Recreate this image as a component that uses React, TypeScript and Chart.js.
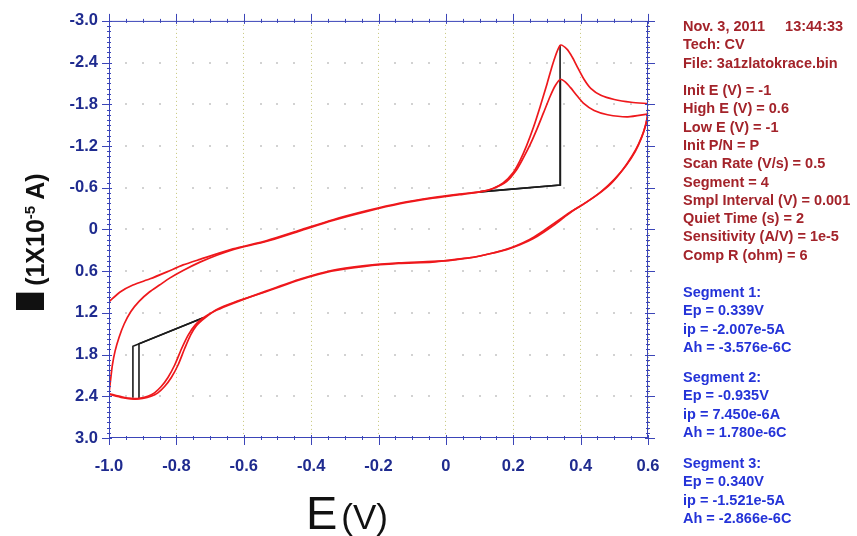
import React, { useEffect, useRef } from 'react';
import { Chart, registerables } from 'chart.js';

Chart.register(...registerables);

// ---------- data (E in V, I in 1e-5 A) ----------
const seg1E = [-1.0, -0.967, -0.929, -0.878, -0.828, -0.78, -0.73, -0.632, -0.531, -0.433, -0.335, -0.234, -0.136, -0.039, 0.04, 0.1, 0.14, 0.17, 0.2, 0.22, 0.24, 0.26, 0.28, 0.3, 0.32, 0.34, 0.36, 0.375, 0.39, 0.41, 0.43, 0.46, 0.5, 0.55, 0.6];
const seg1I = [1.04, 0.9, 0.8, 0.71, 0.61, 0.51, 0.43, 0.28, 0.16, 0.01, -0.14, -0.27, -0.38, -0.46, -0.51, -0.54, -0.59, -0.67, -0.82, -0.99, -1.21, -1.47, -1.77, -2.09, -2.42, -2.65, -2.59, -2.48, -2.34, -2.16, -2.03, -1.93, -1.87, -1.83, -1.81];

const seg2E = [0.6, 0.598, 0.588, 0.573, 0.553, 0.525, 0.49, 0.45, 0.41, 0.37, 0.34, 0.31, 0.28, 0.25, 0.21, 0.17, 0.12, 0.07, 0.02, -0.04, -0.14, -0.24, -0.34, -0.43, -0.53, -0.63, -0.68, -0.72, -0.745, -0.765, -0.785, -0.805, -0.825, -0.845, -0.865, -0.885, -0.91, -0.935, -0.96, -1.0];
const seg2I = [-1.81, -1.62, -1.42, -1.24, -1.06, -0.86, -0.66, -0.5, -0.37, -0.25, -0.15, -0.05, 0.05, 0.14, 0.23, 0.3, 0.36, 0.41, 0.44, 0.46, 0.48, 0.52, 0.59, 0.71, 0.88, 1.06, 1.16, 1.27, 1.38, 1.52, 1.72, 1.95, 2.13, 2.26, 2.35, 2.4, 2.43, 2.43, 2.41, 2.36];

const seg3E = [-1.0, -0.995, -0.99, -0.982, -0.97, -0.955, -0.935, -0.91, -0.88, -0.85, -0.82, -0.78, -0.73, -0.68, -0.632, -0.531, -0.433, -0.335, -0.234, -0.136, -0.039, 0.04, 0.1, 0.14, 0.18, 0.21, 0.23, 0.25, 0.27, 0.29, 0.31, 0.325, 0.34, 0.355, 0.37, 0.39, 0.41, 0.44, 0.48, 0.54, 0.6];
const seg3I = [2.36, 2.15, 1.95, 1.75, 1.55, 1.36, 1.18, 1.03, 0.9, 0.8, 0.7, 0.59, 0.47, 0.37, 0.29, 0.17, 0.02, -0.13, -0.26, -0.37, -0.45, -0.5, -0.54, -0.59, -0.69, -0.86, -1.03, -1.22, -1.44, -1.68, -1.92, -2.07, -2.16, -2.12, -2.04, -1.92, -1.81, -1.71, -1.65, -1.62, -1.66];

const seg4E = [0.6, 0.593, 0.58, 0.562, 0.535, 0.5, 0.46, 0.42, 0.38, 0.35, 0.32, 0.29, 0.26, 0.22, 0.18, 0.13, 0.08, 0.03, -0.04, -0.14, -0.24, -0.34, -0.43, -0.53, -0.63, -0.68, -0.715, -0.74, -0.758, -0.776, -0.795, -0.815, -0.835, -0.855, -0.875, -0.9, -0.925, -0.96, -1.0];
const seg4I = [-1.66, -1.5, -1.31, -1.12, -0.92, -0.72, -0.54, -0.4, -0.28, -0.17, -0.06, 0.04, 0.13, 0.22, 0.29, 0.35, 0.4, 0.43, 0.47, 0.49, 0.53, 0.6, 0.72, 0.89, 1.05, 1.15, 1.27, 1.38, 1.52, 1.72, 1.95, 2.13, 2.26, 2.35, 2.4, 2.43, 2.44, 2.42, 2.37];

// baselines used for peak evaluation (black)
const base1E = [0.1, 0.339, 0.339];
const base1I = [-0.54, -0.64, -2.65];
const base3E = [0.1, 0.34, 0.34];
const base3I = [-0.54, -0.64, -2.16];
const base2E = [-0.72, -0.929, -0.929];
const base2I = [1.27, 1.68, 2.42];
const base4E = [-0.72, -0.911, -0.911];
const base4I = [1.27, 1.645, 2.43];

const xTickValues = [-1.0, -0.8, -0.6, -0.4, -0.2, 0, 0.2, 0.4, 0.6];
const yTickValues = [-3.0, -2.4, -1.8, -1.2, -0.6, 0, 0.6, 1.2, 1.8, 2.4, 3.0];

const headerLines = ['Nov. 3, 2011     13:44:33', 'Tech: CV', 'File: 3a1zlatokrace.bin'];
const paramLines = ['Init E (V) = -1', 'High E (V) = 0.6', 'Low E (V) = -1', 'Init P/N = P', 'Scan Rate (V/s) = 0.5', 'Segment = 4', 'Smpl Interval (V) = 0.001', 'Quiet Time (s) = 2', 'Sensitivity (A/V) = 1e-5', 'Comp R (ohm) = 6'];
const seg1Lines = ['Segment 1:', 'Ep = 0.339V', 'ip = -2.007e-5A', 'Ah = -3.576e-6C'];
const seg2Lines = ['Segment 2:', 'Ep = -0.935V', 'ip = 7.450e-6A', 'Ah = 1.780e-6C'];
const seg3Lines = ['Segment 3:', 'Ep = 0.340V', 'ip = -1.521e-5A', 'Ah = -2.866e-6C'];

// ---------- styles ----------
const FONT = '"Liberation Sans", Arial, sans-serif';
const AXIS = '#3b45b8';
const TICKTXT = '#1f2b8f';
const RED = '#ee181c';
const BLACK = '#1c1c1c';
const INFO_RED = '#a3232a';
const INFO_BLUE = '#2433d8';

const toPts = (E: number[], I: number[]) => E.map((e, i) => ({ x: e, y: I[i] }));
const fmt = (v: number) => (Math.abs(v) < 1e-9 ? '0' : Number(v).toFixed(1));

const framePlugin = {
  id: 'frame',
  beforeDatasetsDraw(chart: any) {
    const { ctx, scales } = chart;
    const xs = scales.x;
    const ys = scales.y;
    ctx.save();
    ctx.fillStyle = '#d2d2d2';
    for (let j = 1; j < yTickValues.length - 1; j++) {
      const py = Math.round(ys.getPixelForValue(yTickValues[j]));
      for (let i = 1; i < 32; i++) {
        if (i % 4 === 0) continue;
        const px = Math.round(xs.getPixelForValue(-1 + i * 0.05));
        ctx.fillRect(px - 1, py - 1, 2, 2);
      }
    }
    ctx.restore();
  },
  afterDatasetsDraw(chart: any) {
    const { ctx, chartArea, scales } = chart;
    const { left, right, top, bottom } = chartArea;
    const xs = scales.x;
    const ys = scales.y;
    ctx.save();
    ctx.strokeStyle = AXIS;
    ctx.lineWidth = 1;
    ctx.strokeRect(left + 0.5, top + 0.5, right - left - 1, bottom - top - 1);
    for (let i = 0; i <= 32; i++) {
      const px = Math.round(xs.getPixelForValue(-1 + i * 0.05)) + 0.5;
      const major = i % 4 === 0;
      ctx.beginPath();
      if (major) {
        ctx.moveTo(px, bottom - 3); ctx.lineTo(px, bottom + 7);
        ctx.moveTo(px, top - 7); ctx.lineTo(px, top + 3);
      } else {
        ctx.moveTo(px, bottom - 2); ctx.lineTo(px, bottom + 2);
        ctx.moveTo(px, top - 2); ctx.lineTo(px, top + 2);
      }
      ctx.stroke();
    }
    for (let i = 0; i <= 80; i++) {
      const py = Math.round(ys.getPixelForValue(-3 + i * 0.075)) + 0.5;
      const major = i % 8 === 0;
      ctx.beginPath();
      if (major) {
        ctx.moveTo(left - 7, py); ctx.lineTo(left + 3, py);
        ctx.moveTo(right - 3, py); ctx.lineTo(right + 7, py);
      } else {
        ctx.moveTo(left - 2, py); ctx.lineTo(left + 2, py);
        ctx.moveTo(right - 2, py); ctx.lineTo(right + 2, py);
      }
      ctx.stroke();
    }
    ctx.restore();
  },
};

const redLine = (label: string, data: any) => ({
  label,
  data,
  borderColor: RED,
  borderWidth: 1.7,
  pointRadius: 0,
  showLine: true,
  tension: 0.25,
  fill: false,
});
const blackLine = (label: string, data: any) => ({
  label,
  data,
  borderColor: BLACK,
  borderWidth: 1.6,
  pointRadius: 0,
  showLine: true,
  tension: 0,
  fill: false,
});

export default function App() {
  const canvasRef = useRef<HTMLCanvasElement | null>(null);

  useEffect(() => {
    const canvas = canvasRef.current;
    if (!canvas) return;
    const chart = new Chart(canvas, {
      type: 'scatter',
      data: {
        datasets: [
          redLine('Segment 1', toPts(seg1E, seg1I)),
          redLine('Segment 2', toPts(seg2E, seg2I)),
          redLine('Segment 3', toPts(seg3E, seg3I)),
          redLine('Segment 4', toPts(seg4E, seg4I)),
          blackLine('Baseline 1', toPts(base1E, base1I)),
          blackLine('Baseline 3', toPts(base3E, base3I)),
          blackLine('Baseline 2', toPts(base2E, base2I)),
          blackLine('Baseline 4', toPts(base4E, base4I)),
        ],
      } as any,
      options: {
        animation: false,
        responsive: false,
        maintainAspectRatio: false,
        devicePixelRatio: 1,
        layout: { padding: { left: 0, top: 16, right: 209, bottom: 0 } },
        plugins: { legend: { display: false }, tooltip: { enabled: false } },
        scales: {
          x: {
            type: 'linear',
            min: -1,
            max: 0.6,
            afterBuildTicks: (s: any) => { s.ticks = xTickValues.map((v) => ({ value: v })); },
            afterFit: (s: any) => { s.height = 98; },
            border: { display: false, dash: [1, 3] },
            grid: { color: '#c6c67a', lineWidth: 1, drawTicks: false },
            ticks: {
              padding: 19,
              color: TICKTXT,
              font: { family: FONT, size: 16.5, weight: 'bold' },
              maxRotation: 0,
              autoSkip: false,
              callback: (v: any) => fmt(Number(v)),
            },
          },
          y: {
            type: 'linear',
            min: -3,
            max: 3,
            reverse: true,
            afterBuildTicks: (s: any) => { s.ticks = yTickValues.map((v) => ({ value: v })); },
            afterFit: (s: any) => { s.width = 109; },
            border: { display: false },
            grid: { display: false, drawTicks: false },
            ticks: {
              padding: 11,
              color: TICKTXT,
              font: { family: FONT, size: 16.5, weight: 'bold' },
              autoSkip: false,
              callback: (v: any) => fmt(Number(v)),
            },
          },
        },
      } as any,
      plugins: [framePlugin],
    });
    return () => chart.destroy();
  }, []);

  const lineH = 18.3;
  const block = (lines: string[], startCenter: number, color: string) =>
    lines.map((t, i) => (
      <div
        key={t}
        style={{
          position: 'absolute',
          left: 683,
          top: startCenter + i * lineH - 9,
          height: 18,
          lineHeight: '18px',
          fontFamily: FONT,
          fontSize: 14.5,
          fontWeight: 'bold',
          color,
          whiteSpace: 'pre',
        }}
      >
        {t}
      </div>
    ));

  return (
    <div style={{ position: 'absolute', left: 0, top: 0, width: 857, height: 536, background: '#fff', overflow: 'hidden' }}>
      <canvas ref={canvasRef} width={857} height={536} style={{ position: 'absolute', left: 0, top: 0, width: 857, height: 536 }} />
      {block(headerLines, 26, INFO_RED)}
      {block(paramLines, 90, INFO_RED)}
      {block(seg1Lines, 292, INFO_BLUE)}
      {block(seg2Lines, 377, INFO_BLUE)}
      {block(seg3Lines, 463, INFO_BLUE)}
      {/* x axis title */}
      <div style={{ position: 'absolute', left: 306, top: 489, lineHeight: 1, fontFamily: FONT, fontSize: 47, color: '#111', whiteSpace: 'nowrap' }}>
        E<span style={{ fontSize: 35, marginLeft: 4 }}>(V)</span>
      </div>
      {/* y axis title */}
      <div
        style={{
          position: 'absolute',
          left: 10,
          top: 315,
          transformOrigin: '0 0',
          transform: 'rotate(-90deg)',
          lineHeight: 1,
          fontFamily: FONT,
          fontSize: 40,
          fontWeight: 'bold',
          color: '#111',
          whiteSpace: 'nowrap',
        }}
      >
        <span style={{ display: 'inline-block', transform: 'scaleX(3)', margin: '0 10px 0 8px' }}>I</span>
        <span style={{ fontSize: 25 }}>
          (1X10<span style={{ fontSize: 15, verticalAlign: '0.6em' }}>-5</span> A)
        </span>
      </div>
    </div>
  );
}
